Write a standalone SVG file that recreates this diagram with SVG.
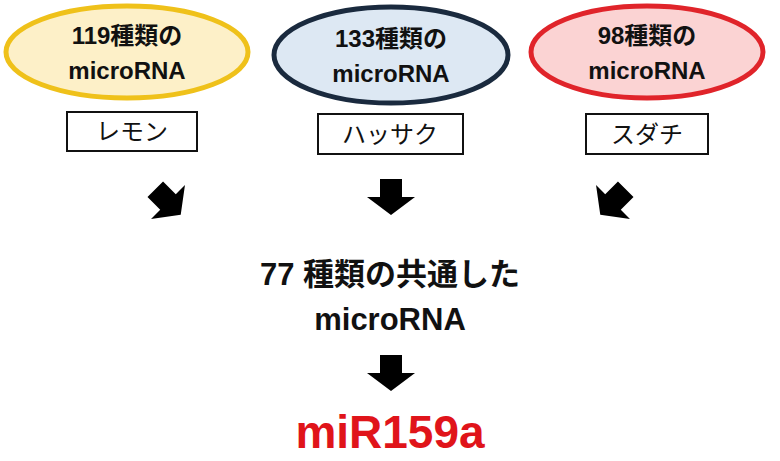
<svg xmlns="http://www.w3.org/2000/svg" width="780" height="461" viewBox="0 0 780 461">
<style>
text{font-family:"Liberation Sans","Noto Sans CJK JP",sans-serif;font-weight:bold;fill:#111;text-anchor:middle}
.e{font-size:24px}
.b{fill:#fff;stroke:#111;stroke-width:2}
.lab{font-size:24px;font-weight:normal}
.arr{fill:#000}
</style>
<defs><polygon id="ar" points="-11,-18 11,-18 11,0 24,0 0,18 -24,0 -11,0"/></defs>
<rect width="780" height="461" fill="#fff"/>
<g id="n1"><ellipse cx="127" cy="52" rx="121" ry="46" fill="#fdf0c8" stroke="#efc11a" stroke-width="5"/><text class="e" x="127" y="44">119種類の</text><text class="e" x="127" y="79">microRNA</text></g>
<g id="n2"><ellipse cx="391" cy="55" rx="117" ry="48" fill="#dde8f3" stroke="#1a2a3e" stroke-width="5"/><text class="e" x="391" y="47">133種類の</text><text class="e" x="391" y="82">microRNA</text></g>
<g id="n3"><ellipse cx="647" cy="52" rx="116" ry="46" fill="#fbd3d3" stroke="#e0242a" stroke-width="5"/><text class="e" x="647" y="44">98種類の</text><text class="e" x="647" y="79">microRNA</text></g>
<g id="l1"><rect class="b" x="67" y="112" width="130" height="39"/><text class="lab" x="132" y="140">レモン</text></g>
<g id="l2"><rect class="b" x="318" y="114" width="145" height="40"/><text class="lab" x="390" y="143">ハッサク</text></g>
<g id="l3"><rect class="b" x="586" y="114" width="122" height="40"/><text class="lab" x="647" y="143">スダチ</text></g>
<g id="n4"><text x="390" y="285" font-size="31">77 種類の共通した</text><text x="390" y="330" font-size="31">microRNA</text></g>
<g id="n5"><text x="390" y="448" font-size="46" style="fill:#e0141a">miR159a</text></g>
<g id="connectors">
<use href="#ar" class="arr" transform="translate(168,202) rotate(-45)"/>
<use href="#ar" class="arr" transform="translate(391,197)"/>
<use href="#ar" class="arr" transform="translate(613,202) rotate(45)"/>
<use href="#ar" class="arr" transform="translate(391,373)"/>
</g>
</svg>
